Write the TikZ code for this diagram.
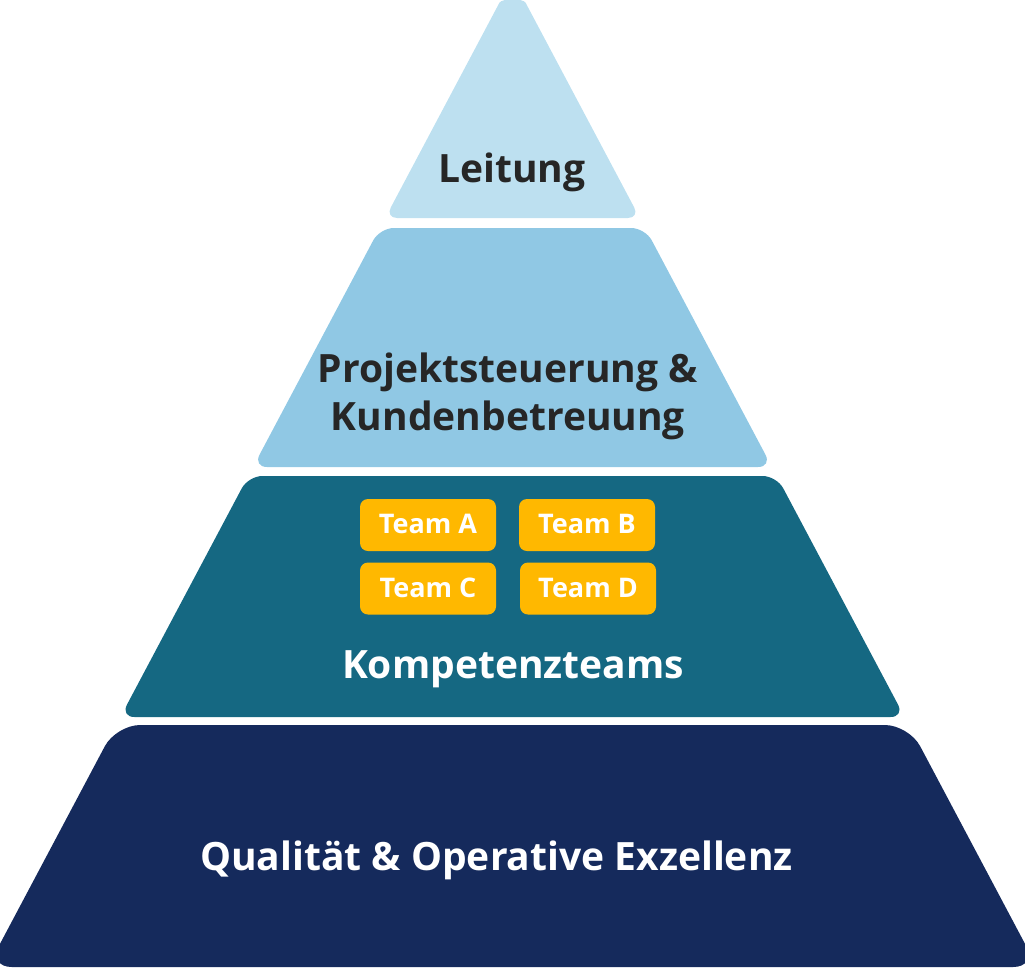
\documentclass[tikz,border=0pt]{standalone}
\usepackage{fontspec}
\setmainfont{Open Sans}
\definecolor{lvA}{RGB}{189,224,240}
\definecolor{lvB}{RGB}{144,200,228}
\definecolor{lvC}{RGB}{21,104,130}
\definecolor{lvD}{RGB}{21,42,92}
\definecolor{teamfill}{RGB}{255,184,0}
\definecolor{darktext}{RGB}{38,38,38}
\begin{document}
\begin{tikzpicture}[x=1pt,y=-1pt,
  layer/.style={rounded corners=14},
  darklabel/.style={anchor=base,align=center,text=darktext,font=\fontsize{39}{48}\selectfont\bfseries,inner sep=0pt},
  lightlabel/.style={anchor=base,align=center,text=white,font=\fontsize{39}{48}\selectfont\bfseries,inner sep=0pt},
  teambox/.style={fill=teamfill,rounded corners=8,minimum width=136pt,minimum height=52pt,inner sep=0pt},
  teamlabel/.style={anchor=base,text=white,font=\fontsize{27}{32}\selectfont\bfseries,inner sep=0pt}]
\useasboundingbox (0,0) rectangle (1025,967);
\clip (0,0) rectangle (1025,967);
% Layer 1
\fill[lvA,rounded corners=12] (385.2,218) -- (493.8,13.3) .. controls (501.8,-1.77) and (523.2,-1.77) .. (531.2,13.3) -- (639.8,218) -- cycle;
% Layer 2
\fill[lvB,layer] (253,467) -- (379.8,228) -- (645.2,228) -- (772,467) -- cycle;
% Layer 3
\fill[lvC,layer] (120.4,717) -- (248.3,476) -- (776.7,476) -- (904.6,717) -- cycle;
% Layer 4
\fill[lvD,layer,rounded corners=24] (-12.3,967) -- (116.1,725) -- (908.9,725) -- (1037.3,967) -- cycle;
% Labels
\node[darklabel] (leitung) at (512,182) {Leitung};
\node[darklabel] (projekt) at (508,430) {Projektsteuerung \&\\Kundenbetreuung};
\node[lightlabel] (kompetenz) at (513,678) {Kompetenzteams};
\node[lightlabel] (qualitaet) at (496.5,870) {Qualität \& Operative Exzellenz};
% Teams
\node[teambox] (boxA) at (428,525) {};
\node[teambox] (boxB) at (587,525) {};
\node[teambox] (boxC) at (428,588.5) {};
\node[teambox] (boxD) at (588,588.5) {};
\node[teamlabel] (teamA) at (428,533) {Team A};
\node[teamlabel] (teamB) at (587,533) {Team B};
\node[teamlabel] (teamC) at (428,597) {Team C};
\node[teamlabel] (teamD) at (588,597) {Team D};
\end{tikzpicture}
\end{document}
